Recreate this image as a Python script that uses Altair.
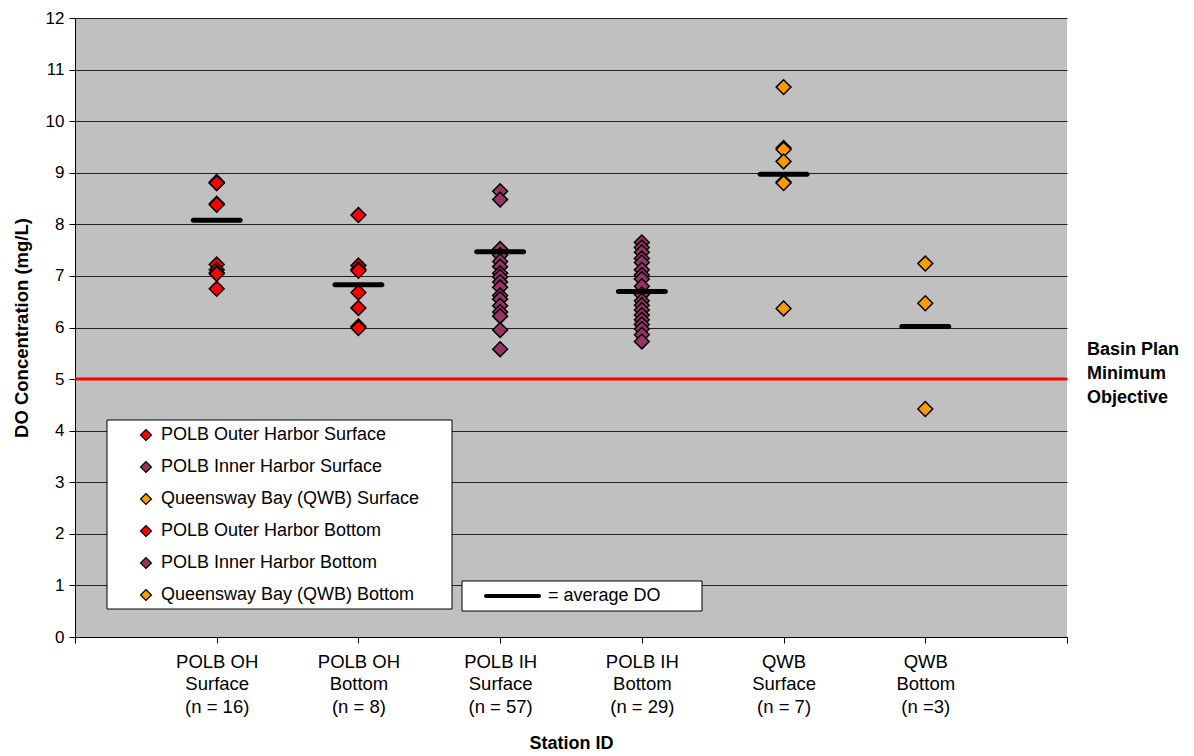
import json
import altair as alt
import pandas as pd

# ---- data -------------------------------------------------------------
station_labels = [
    ["POLB OH", "Surface", "(n = 16)"],
    ["POLB OH", "Bottom", "(n = 8)"],
    ["POLB IH", "Surface", "(n = 57)"],
    ["POLB IH", "Bottom", "(n = 29)"],
    ["QWB", "Surface", "(n = 7)"],
    ["QWB", "Bottom", "(n =3)"],
]

# one series per station column, in station order
station_series = [
    "POLB Outer Harbor Surface",
    "POLB Outer Harbor Bottom",
    "POLB Inner Harbor Surface",
    "POLB Inner Harbor Bottom",
    "Queensway Bay (QWB) Surface",
    "Queensway Bay (QWB) Bottom",
]

# legend order and colours
legend_order = [
    "POLB Outer Harbor Surface",
    "POLB Inner Harbor Surface",
    "Queensway Bay (QWB) Surface",
    "POLB Outer Harbor Bottom",
    "POLB Inner Harbor Bottom",
    "Queensway Bay (QWB) Bottom",
]
legend_colors = ["#FF0000", "#993366", "#FF9900", "#FF0000", "#993366", "#FF9900"]

oh_surface = [8.82, 8.80, 8.80, 8.40, 8.38, 7.22, 7.12, 7.06, 7.04, 6.75]
oh_bottom = [8.18, 7.20, 7.13, 7.10, 6.68, 6.38, 6.02, 5.99]
ih_surface = [8.64, 8.48, 7.52, 7.40, 7.28, 7.18, 7.05, 6.98, 6.88, 6.78,
              6.62, 6.55, 6.42, 6.30, 6.22, 5.95, 5.58]
ih_bottom = [7.65, 7.55, 7.46, 7.34, 7.26, 7.12, 7.02, 6.94, 6.80, 6.64,
             6.52, 6.43, 6.34, 6.24, 6.15, 6.06, 5.97, 5.86, 5.73]
qwb_surface = [10.66, 9.48, 9.45, 9.22, 8.82, 8.80, 6.37]
qwb_bottom = [7.24, 6.47, 4.42]

average_do = [8.08, 6.83, 7.47, 6.70, 8.97, 6.02]
basin_plan_objective = 5

# ---- tables -------------------------------------------------------------
station_values = [oh_surface, oh_bottom, ih_surface, ih_bottom, qwb_surface, qwb_bottom]
rows = []
for i, (name, vals) in enumerate(zip(station_series, station_values), start=1):
    for v in vals:
        rows.append({"pos": i, "series": name, "value": v})
points_df = pd.DataFrame(rows)
avg_df = pd.DataFrame({"pos": list(range(1, 7)), "value": average_do})
objective_df = pd.DataFrame({"value": [basin_plan_objective]})
one_row = pd.DataFrame({"k": [0]})

W, H = 992, 619
FONT = "Liberation Sans"

x_scale = alt.Scale(domain=[0, 7], nice=False, zero=False)
y_scale = alt.Scale(domain=[0, 12], nice=False, zero=True)

label_expr = (
    "datum.value >= 1 && datum.value <= 6 ? "
    + json.dumps(station_labels)
    + "[datum.value - 1] : ''"
)

x_axis = alt.Axis(
    values=list(range(8)),
    labelExpr=label_expr,
    title="Station ID",
    grid=False,
    labelAngle=0,
    labelOverlap=False,
    labelFlush=False,
    labelFontSize=18.5,
    labelLineHeight=22.5,
    labelPadding=9,
    labelColor="black",
    tickSize=6,
    tickColor="black",
    domainColor="black",
    titleFontSize=18,
    titleFontWeight="bold",
    titlePadding=19,
    titleColor="black",
)

y_axis = alt.Axis(
    values=list(range(13)),
    title="DO Concentration (mg/L)",
    grid=True,
    gridColor="#222222",
    gridWidth=1,
    labelFontSize=17,
    labelPadding=5,
    labelColor="black",
    tickSize=6,
    tickColor="black",
    domainColor="black",
    titleFontSize=18.5,
    titleFontWeight="bold",
    titlePadding=14,
    titleColor="black",
)

legend = alt.Legend(
    title=None,
    orient="none",
    legendX=62,
    legendY=408,
    symbolType="diamond",
    symbolSize=120,
    symbolStrokeColor="black",
    symbolStrokeWidth=1.2,
    labelFontSize=18,
    labelLimit=400,
    labelColor="black",
    labelOffset=6,
    rowPadding=14,
    padding=0,
)

# legend backdrop
legend_box = alt.Chart(one_row).mark_rect(fill="white", stroke="black", strokeWidth=1).encode(
    x=alt.value(32), x2=alt.value(377), y=alt.value(402), y2=alt.value(591)
)

points = alt.Chart(points_df).mark_point(
    shape="diamond", filled=True, size=220, stroke="black", strokeWidth=1.5, opacity=1
).encode(
    x=alt.X("pos:Q", scale=x_scale, axis=x_axis),
    y=alt.Y("value:Q", scale=y_scale, axis=y_axis),
    color=alt.Color(
        "series:N",
        scale=alt.Scale(domain=legend_order, range=legend_colors),
        legend=legend,
    ),
)

averages = alt.Chart(avg_df).mark_tick(
    orient="horizontal", size=52, thickness=5, color="black", cornerRadius=2.5, opacity=1
).encode(
    x=alt.X("pos:Q", scale=x_scale),
    y=alt.Y("value:Q", scale=y_scale),
)

objective_line = alt.Chart(objective_df).mark_rule(color="#FF0000", strokeWidth=3).encode(
    y=alt.Y("value:Q", scale=y_scale)
)

objective_text = alt.Chart(objective_df).mark_text(
    align="left", baseline="middle", fontSize=18, fontWeight="bold",
    lineBreak="\n", lineHeight=24, dy=-29, color="black"
).encode(
    x=alt.value(W + 20),
    y=alt.Y("value:Q", scale=y_scale),
    text=alt.value("Basin Plan\nMinimum\nObjective"),
)

# "= average DO" key
avg_box = alt.Chart(one_row).mark_rect(fill="white", stroke="black", strokeWidth=1).encode(
    x=alt.value(387), x2=alt.value(627), y=alt.value(563), y2=alt.value(593)
)
avg_key_line = alt.Chart(one_row).mark_rule(color="black", strokeWidth=4, strokeCap="round").encode(
    x=alt.value(411), x2=alt.value(464), y=alt.value(578)
)
avg_key_text = alt.Chart(one_row).mark_text(
    align="left", baseline="middle", fontSize=18, color="black"
).encode(
    x=alt.value(473), y=alt.value(578), text=alt.value("= average DO")
)

chart = alt.layer(
    legend_box, objective_line, points, averages, objective_text,
    avg_box, avg_key_line, avg_key_text,
).properties(
    width=W,
    height=H,
    autosize=alt.AutoSizeParams(type="none"),
    padding={"left": 75, "top": 18, "right": 1194 - 75 - W, "bottom": 756 - 18 - H},
).configure(
    font=FONT,
    background="white",
).configure_view(
    fill="#C0C0C0",
    stroke=None,
)

chart.save("out.html", embed_options={"renderer": "svg", "actions": False})
